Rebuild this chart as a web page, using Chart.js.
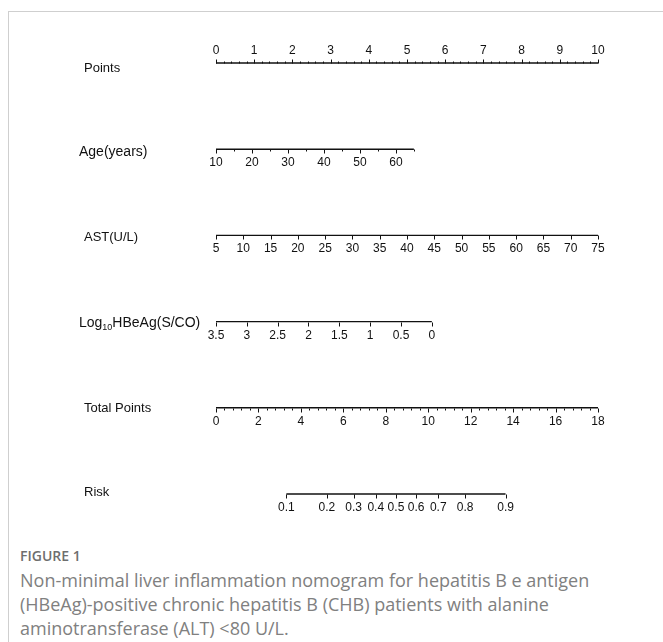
<!DOCTYPE html>
<html>
<head>
<meta charset="utf-8">
<script src="https://cdn.jsdelivr.net/npm/chart.js@4"></script>
<style>
  html, body { margin: 0; padding: 0; background: #fff; width: 663px; height: 642px; overflow: hidden; }
  .frame { position: absolute; left: 8px; top: 11px; width: 700px; height: 700px;
           border-top: 1px solid #cfcfcf; border-left: 1px solid #cfcfcf; }
  #wrap { position: absolute; left: 0; top: 0; width: 663px; height: 540px; }
  .figno { position: absolute; left: 20px; top: 547px; font: 600 14px "Open Sans", sans-serif;
           color: #6e6e6e; line-height: 18px; }
  .caption { position: absolute; left: 20px; top: 568px; width: 640px; font: 18px "Open Sans", sans-serif;
             color: #808080; line-height: 24px; white-space: nowrap; }
</style>
</head>
<body>
<div class="frame"></div>
<div id="wrap"><canvas id="nomoChart" width="663" height="540"></canvas></div>
<div class="figno">FIGURE 1</div>
<div class="caption">Non-minimal liver inflammation nomogram for hepatitis B e antigen<br>(HBeAg)-positive chronic hepatitis B (CHB) patients with alanine<br>aminotransferase (ALT) &lt;80 U/L.</div>
<script>
// nomogram values
const rowNames = ['Points', 'Age(years)', 'AST(U/L)', 'Log10HBeAg(S/CO)', 'Total Points', 'Risk'];

const pointsLabels = [0, 1, 2, 3, 4, 5, 6, 7, 8, 9, 10];

const ageLabels = [10, 20, 30, 40, 50, 60];
const ageRange = [10, 65];           // variable range drawn
const agePoints = [0, 5.18];         // points at each end of range

const astLabels = [5, 10, 15, 20, 25, 30, 35, 40, 45, 50, 55, 60, 65, 70, 75];
const astRange = [5, 75];
const astPoints = [0, 10];

const hbeagLabels = [3.5, 3, 2.5, 2, 1.5, 1, 0.5, 0];
const hbeagRange = [3.5, 0];
const hbeagPoints = [0, 5.65];

const totalLabels = [0, 2, 4, 6, 8, 10, 12, 14, 16, 18];
const totalRange = [0, 18];

const riskLabels = [0.1, 0.2, 0.3, 0.4, 0.5, 0.6, 0.7, 0.8, 0.9];
const riskMid = 8.48;    // total points where risk = 0.5
const riskSlope = 2.35;  // total points per unit logit

const ink = '#111';
const tickFont = '12px "Liberation Sans", Arial, sans-serif';

function linMap(range, pts) {
  return v => pts[0] + (v - range[0]) * (pts[1] - pts[0]) / (range[1] - range[0]);
}
const totalToPoints = v => v * 10 / totalRange[1];
const riskToPoints = p => totalToPoints(riskMid + riskSlope * Math.log(p / (1 - p)));

function steps(a, b, s) {
  let out = [];
  for (let v = a; v <= b + 1e-9; v += s) out.push(+v.toFixed(4));
  return out;
}

// one entry per nomogram row (title: x, y shift, font size)
const axes = [
  { row: 0, map: v => v, lo: 0, hi: 10, labels: pointsLabels,
    ticks: steps(0, 10, 0.2), up: true, title: [84, 5, 13] },
  { row: 1, map: linMap(ageRange, agePoints), lo: ageRange[0], hi: ageRange[1],
    labels: ageLabels, ticks: steps(10, 65, 5), title: [79, 3, 14] },
  { row: 2, map: linMap(astRange, astPoints), lo: astRange[0], hi: astRange[1],
    labels: astLabels, ticks: astLabels, title: [84, 2, 13] },
  { row: 3, map: linMap(hbeagRange, hbeagPoints), lo: hbeagRange[0], hi: hbeagRange[1],
    labels: hbeagLabels, ticks: hbeagLabels, title: [79, 1, 14] },
  { row: 4, map: totalToPoints, lo: totalRange[0], hi: totalRange[1],
    labels: totalLabels, ticks: steps(0, 18, 0.4), title: [84, 0, 13] },
  { row: 5, map: riskToPoints, lo: riskLabels[0], hi: riskLabels[riskLabels.length - 1],
    labels: riskLabels, ticks: riskLabels, title: [84, -2, 13] },
];

const datasets = axes.map(a => ({
  data: [{ x: a.map(a.lo), y: a.row }, { x: a.map(a.hi), y: a.row }],
  borderColor: ink,
  borderWidth: 1.4,
  pointRadius: 0,
  clip: false,
}));

const nomoPlugin = {
  id: 'nomo',
  afterDatasetsDraw(chart) {
    const ctx = chart.ctx;
    const xs = chart.scales.x, ys = chart.scales.y;
    ctx.save();
    ctx.strokeStyle = ink;
    ctx.fillStyle = ink;
    ctx.lineWidth = 1;
    axes.forEach(a => {
      const py = Math.round(ys.getPixelForValue(a.row)) + 0.5;
      const dir = a.up ? -1 : 1;
      // tick marks
      a.ticks.forEach(t => {
        const px = Math.round(xs.getPixelForValue(a.map(t))) + 0.5;
        const major = a.labels.some(l => Math.abs(l - t) < 1e-6);
        const len = (major || a.ticks === a.labels) ? 4 : 2;
        ctx.beginPath();
        ctx.moveTo(px, py);
        ctx.lineTo(px, py + dir * len);
        ctx.stroke();
      });
      // tick labels
      ctx.font = tickFont;
      ctx.textAlign = 'center';
      ctx.textBaseline = 'middle';
      a.labels.forEach(l => {
        const px = xs.getPixelForValue(a.map(l));
        ctx.fillText(String(l), px, py + dir * 13);
      });
      // row title
      ctx.textAlign = 'left';
      const name = rowNames[a.row];
      const [tx, dy, fs] = a.title;
      const f = s => s + 'px "Liberation Sans", Arial, sans-serif';
      if (name.startsWith('Log10')) {
        let x0 = tx;
        ctx.font = f(fs);
        ctx.fillText('Log', x0, py + dy);
        x0 += ctx.measureText('Log').width;
        ctx.font = f(9);
        ctx.fillText('10', x0, py + dy + 4);
        x0 += ctx.measureText('10').width;
        ctx.font = f(fs);
        ctx.fillText('HBeAg(S/CO)', x0, py + dy);
      } else {
        ctx.font = f(fs);
        ctx.fillText(name, tx, py + dy);
      }
    });
    ctx.restore();
  }
};

new Chart(document.getElementById('nomoChart').getContext('2d'), {
  type: 'line',
  data: { datasets: datasets },
  options: {
    responsive: false,
    animation: false,
    events: [],
    layout: { padding: { left: 216, right: 65, top: 63, bottom: 46 } },
    plugins: { legend: { display: false }, tooltip: { enabled: false } },
    scales: {
      x: { type: 'linear', min: 0, max: 10, display: false },
      y: { type: 'linear', min: 0, max: 5, reverse: true, display: false }
    }
  },
  plugins: [nomoPlugin]
});
</script>
</body>
</html>
